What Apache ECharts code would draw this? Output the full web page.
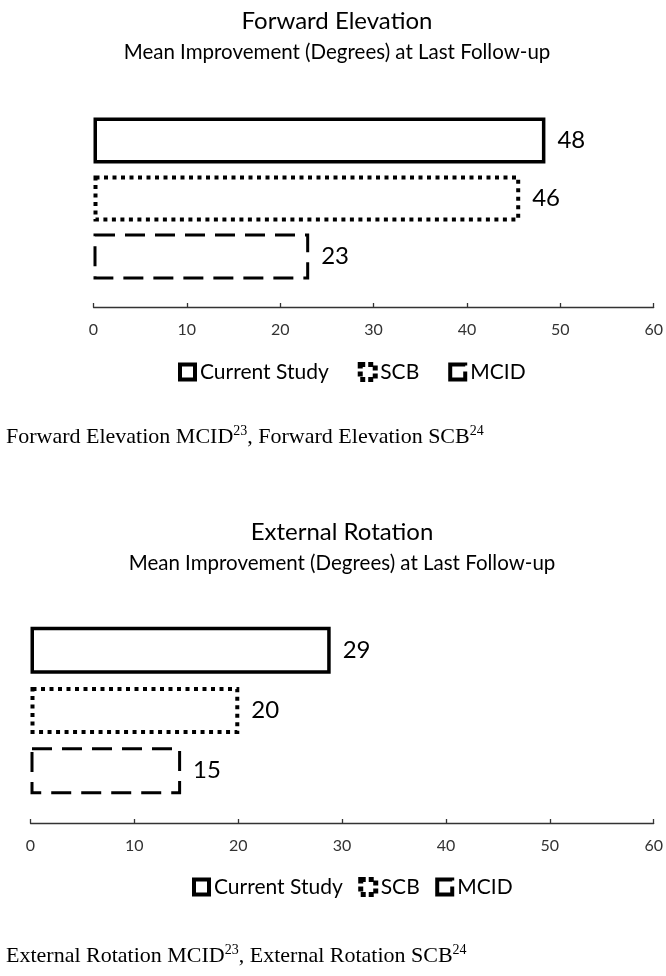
<!DOCTYPE html>
<html>
<head>
<meta charset="utf-8">
<script src="https://cdn.jsdelivr.net/npm/echarts@6/dist/echarts.min.js"></script>
<style>html,body{margin:0;padding:0;background:#fff;}#c{width:666px;height:976px;}</style>
</head>
<body>
<div id="c"></div>
<script>
const seriesNames = ['Current Study', 'SCB', 'MCID'];
const forwardElevation = [48.4, 45.7, 23.1];
const externalRotation = [28.9, 20.1, 14.5];
const chartTitles = ['Forward Elevation', 'External Rotation'];
const chartSubtitle = 'Mean Improvement (Degrees) at Last Follow-up';
const axisMin = 0, axisMax = 60, axisStep = 10;

const FONT = 'Lato';
const styles = [
  { color: '#fff', borderColor: '#000', borderWidth: 3.5, borderType: 'solid' },
  { color: '#fff', borderColor: '#000', borderWidth: 4, borderType: [4, 4.5] },
  { color: '#fff', borderColor: '#000', borderWidth: 3, borderType: [20, 10] }
];
const legendIcons = [
  { color: '#fff', borderColor: '#000', borderWidth: 4, borderType: 'solid' },
  { color: '#fff', borderColor: '#000', borderWidth: 5, borderType: [5, 3] },
  { color: '#fff', borderColor: '#000', borderWidth: 4, borderType: [16, 6, 60] }
];

const chart = echarts.init(document.getElementById('c'));

function xAxisFor(idx) {
  return {
    gridIndex: idx, type: 'value', min: axisMin, max: axisMax, interval: axisStep,
    axisLine: { show: true, lineStyle: { color: '#333', width: 1.3 } },
    axisTick: { show: true, inside: true, length: 4, lineStyle: { color: '#333', width: 1.3 } },
    axisLabel: { fontFamily: FONT, fontSize: 16, color: '#333', margin: 15 },
    splitLine: { show: false }
  };
}
function yAxisFor(idx) {
  return {
    gridIndex: idx, type: 'category', data: [''], inverse: true,
    axisLine: { show: false }, axisTick: { show: false }, axisLabel: { show: false }
  };
}
function seriesFor(idx, values, width, gap) {
  return seriesNames.map((n, i) => ({
    name: n, type: 'bar', xAxisIndex: idx, yAxisIndex: idx,
    data: [values[i]], barWidth: width, barGap: gap,
    itemStyle: styles[i],
    label: {
      show: true, position: 'right', distance: 12,
      fontFamily: FONT, fontSize: 24, color: '#000',
      formatter: p => String(Math.round(p.value))
    },
    emphasis: { disabled: true },
    animation: false
  }));
}
function legendFor(top, left, gap) {
  return {
    top: top, left: left, itemGap: gap, itemWidth: 15, itemHeight: 15, padding: 0,
    selectedMode: false,
    textStyle: { fontFamily: FONT, fontSize: 21, color: '#000', lineHeight: 22 },
    data: seriesNames.map((n, i) => ({ name: n, icon: 'rect', itemStyle: legendIcons[i] }))
  };
}
function titleFor(text, left, top) {
  return {
    text: text, subtext: chartSubtitle, left: left, top: top, textAlign: 'center', itemGap: 2, padding: 0,
    textStyle: { fontFamily: FONT, fontSize: 24, fontWeight: 'normal', color: '#000', lineHeight: 30 },
    subtextStyle: { fontFamily: FONT, fontSize: 20.5, color: '#000', lineHeight: 28 }
  };
}

chart.setOption({
  backgroundColor: '#fff',
  animation: false,
  title: [titleFor(chartTitles[0], 337, 6), titleFor(chartTitles[1], 342, 517)],
  grid: [
    { left: 93.5, right: 9.5, top: 90, bottom: 976 - 307, containLabel: false },
    { left: 30.5, right: 11, top: 598, bottom: 976 - 823, containLabel: false }
  ],
  xAxis: [xAxisFor(0), xAxisFor(1)],
  yAxis: [yAxisFor(0), yAxisFor(1)],
  legend: [legendFor(361, 178, 29), legendFor(876, 192, 15.5)],
  series: [].concat(seriesFor(0, forwardElevation, 46, '26%'), seriesFor(1, externalRotation, 47, '28%')),
  graphic: [
    { type: 'text', left: 6, top: 424, style: {
      text: 'Forward Elevation MCID{sup|23}, Forward Elevation SCB{sup|24}',
      fontFamily: 'Liberation Serif', fontSize: 22, fill: '#000', lineHeight: 26,
      rich: { sup: { fontFamily: 'Liberation Serif', fontSize: 14, fill: '#000', lineHeight: 14, verticalAlign: 'top', padding: [0, 0, 8, 0] } }
    } },
    { type: 'text', left: 6, top: 943, style: {
      text: 'External Rotation MCID{sup|23}, External Rotation SCB{sup|24}',
      fontFamily: 'Liberation Serif', fontSize: 22, fill: '#000', lineHeight: 26,
      rich: { sup: { fontFamily: 'Liberation Serif', fontSize: 14, fill: '#000', lineHeight: 14, verticalAlign: 'top', padding: [0, 0, 8, 0] } }
    } }
  ]
});
</script>
</body>
</html>
